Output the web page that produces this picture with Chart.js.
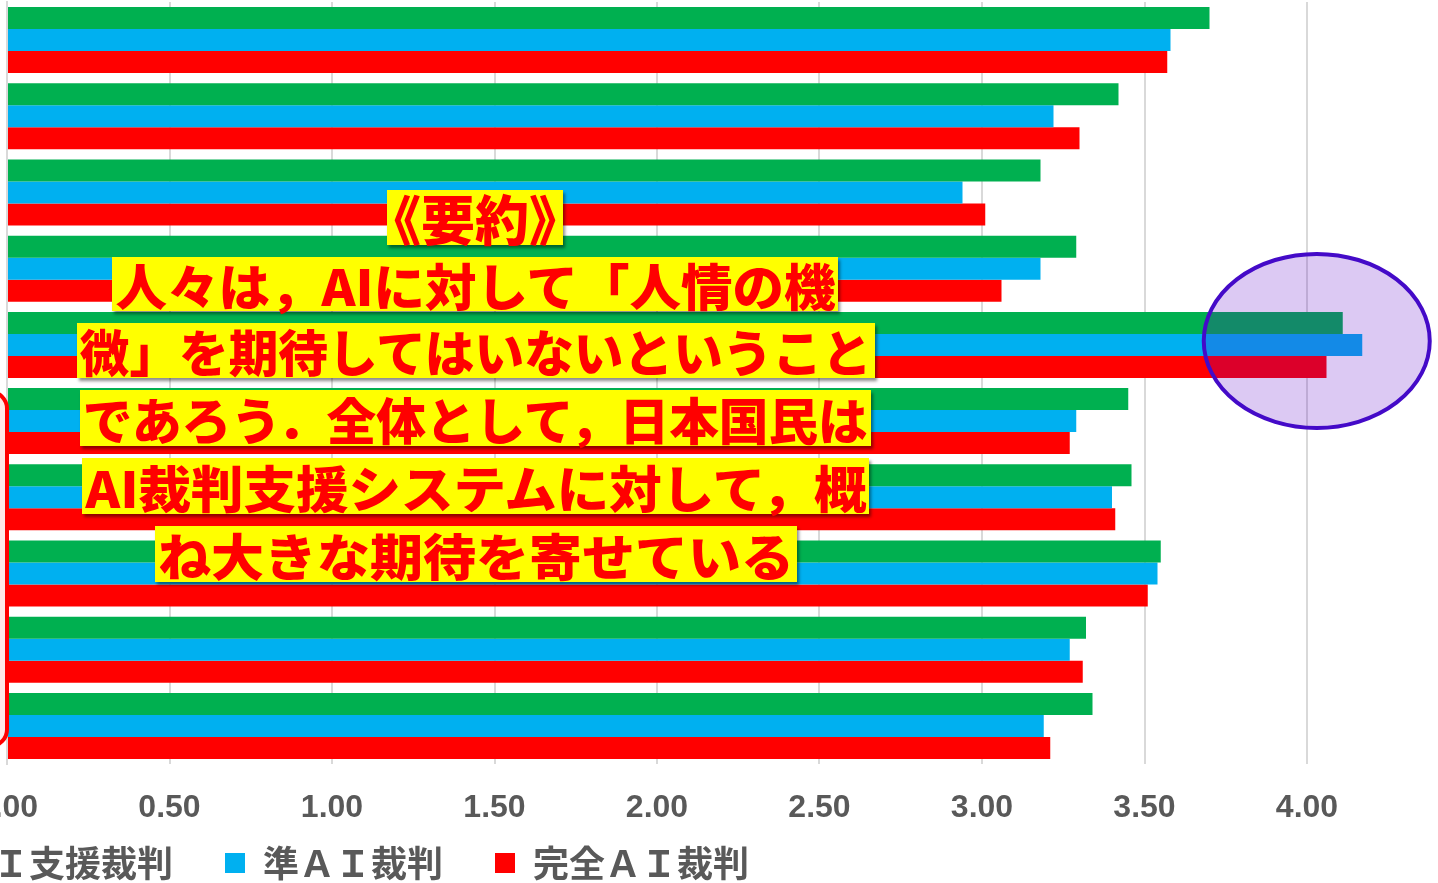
<!DOCTYPE html>
<html lang="ja">
<head>
<meta charset="utf-8">
<title>AI裁判への期待</title>
<script src="https://cdn.jsdelivr.net/npm/chart.js@4"></script>
<style>
  html, body { margin: 0; padding: 0; background: #ffffff; width: 1438px; height: 883px; overflow: hidden; }
  #stage { position: relative; width: 1438px; height: 883px; overflow: hidden; }
  #wrap { position: absolute; left: -133px; top: 0; width: 1571px; height: 883px; }
  #bracket {
    position: absolute; left: -28px; top: 390px; width: 37px; height: 358px;
    box-sizing: border-box; border: 4px solid #ff0000; border-radius: 30px;
    background: rgba(255, 190, 190, 0.35);
  }
  .note {
    position: absolute; box-sizing: border-box; background: #ffff00; color: #ff0000;
    font-family: "Noto Sans CJK JP", sans-serif; font-weight: 900; font-size: 50px;
    white-space: nowrap; text-align: center; overflow: visible;
    box-shadow: 2px 3px 3px rgba(0, 0, 0, 0.45);
  }
  .note span { display: inline-block; transform-origin: 50% 50%; }
  .note.heading { font-size: 54px; }
  .note.heading span { position: absolute; left: 50%; top: 0; transform: translateX(-50%); }
</style>
</head>
<body>
<div id="stage">
  <div id="wrap"><canvas id="chart"></canvas></div>
  <div id="bracket"></div>
</div>
<script>
// Survey items (ten questions), mean scores per trial type
const categories = ['項目1', '項目2', '項目3', '項目4', '項目5', '項目6', '項目7', '項目8', '項目9', '項目10'];
const seriesNames = ['ＡＩ支援裁判', '準ＡＩ裁判', '完全ＡＩ裁判'];
const supportValues = [3.70, 3.42, 3.18, 3.29, 4.11, 3.45, 3.46, 3.55, 3.32, 3.34];
const semiValues    = [3.58, 3.22, 2.94, 3.18, 4.17, 3.29, 3.40, 3.54, 3.27, 3.19];
const fullValues    = [3.57, 3.30, 3.01, 3.06, 4.06, 3.27, 3.41, 3.51, 3.31, 3.21];
const seriesColors  = ['#00b050', '#00b0f0', '#ff0000'];
const tickStep = 0.5;
const axisMax = 4.4;

// Highlighted item (the one scoring above 4)
const focusIndex = 4;
const focusValue = 4.03;

// Summary text, one entry per line
const summaryLines = [
  '《要約》',
  '人々は，AIに対して「人情の機',
  '微」を期待してはいないということ',
  'であろう．全体として，日本国民は',
  'AI裁判支援システムに対して，概',
  'ね大きな期待を寄せている'
];
// Box geometry for each summary line: [left, top, width, height]
const summaryBoxes = [
  [387, 190, 176, 55],
  [112, 257, 726, 54],
  [77, 323, 798, 55],
  [80, 390, 791, 56],
  [82, 458, 787, 56],
  [155, 526, 642, 56]
];

const focusMark = {
  id: 'focusMark',
  afterDatasetsDraw(chart) {
    const { ctx, scales: { x, y } } = chart;
    const cx = x.getPixelForValue(focusValue);
    const cy = y.getPixelForValue(focusIndex) - 4;
    ctx.save();
    ctx.beginPath();
    ctx.ellipse(cx, cy, 113, 87, 0, 0, Math.PI * 2);
    ctx.fillStyle = 'rgba(90, 0, 200, 0.21)';
    ctx.fill();
    ctx.lineWidth = 4;
    ctx.strokeStyle = '#440ac8';
    ctx.stroke();
    ctx.restore();
  }
};

Chart.defaults.font.family = '"Liberation Sans", Arial, sans-serif';

const values = [supportValues, semiValues, fullValues];
new Chart(document.getElementById('chart'), {
  type: 'bar',
  data: {
    labels: categories,
    datasets: seriesNames.map((name, i) => ({
      label: name,
      data: values[i],
      backgroundColor: seriesColors[i],
      borderWidth: 0,
      categoryPercentage: 0.866,
      barPercentage: 1.0
    }))
  },
  options: {
    indexAxis: 'y',
    responsive: true,
    maintainAspectRatio: false,
    animation: false,
    layout: { padding: { top: 2, right: 1, left: 0, bottom: 0 } },
    scales: {
      x: {
        min: 0,
        max: axisMax,
        ticks: {
          stepSize: tickStep,
          // labels sit below the plot, reaching into the legend band
          mirror: true,
          padding: -63,
          color: '#595959',
          font: { family: '"Liberation Sans", Arial, sans-serif', size: 32, weight: 'bold' },
          callback: v => Number(v).toFixed(2)
        },
        afterBuildTicks(s) {
          s.ticks = s.ticks.filter(t => Math.abs(t.value / tickStep - Math.round(t.value / tickStep)) < 1e-9);
        },
        afterFit(s) { s.height = 29; },
        grid: { color: '#d9d9d9', lineWidth: 2, drawTicks: false },
        border: { display: false }
      },
      y: {
        ticks: { display: false },
        grid: { drawOnChartArea: false, drawTicks: false },
        border: { display: true, color: '#d9d9d9', width: 2 },
        afterFit(s) { s.width = 140; }
      }
    },
    plugins: {
      legend: {
        position: 'bottom',
        align: 'start',
        maxHeight: 90,
        labels: {
          boxWidth: 20,
          boxHeight: 20,
          padding: 52,
          color: '#595959',
          font: { family: '"Noto Sans CJK JP", sans-serif', size: 36, weight: 'bold' }
        }
      },
      tooltip: { enabled: false }
    }
  },
  plugins: [focusMark]
});

// Summary callout boxes
const stage = document.getElementById('stage');
summaryLines.forEach((text, i) => {
  const [l, t, w, h] = summaryBoxes[i];
  const box = document.createElement('div');
  box.className = i === 0 ? 'note heading' : 'note';
  box.style.left = l + 'px';
  box.style.top = t + 'px';
  box.style.width = w + 'px';
  box.style.height = h + 'px';
  box.style.lineHeight = h + 'px';
  const span = document.createElement('span');
  span.textContent = text;
  box.appendChild(span);
  stage.appendChild(box);
  if (i === 0) return;
  const natural = span.getBoundingClientRect().width;
  const target = w - 6;
  if (natural > 0) {
    const k = Math.min(target / natural, 1.2);
    span.style.transform = 'scaleX(' + k.toFixed(4) + ')';
  }
});
</script>
</body>
</html>
